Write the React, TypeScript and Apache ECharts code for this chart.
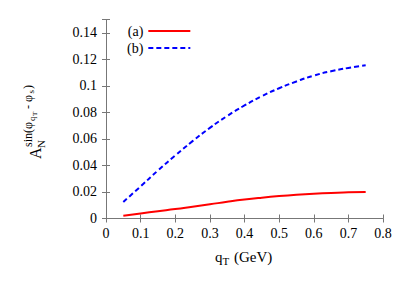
import React, { useEffect, useRef } from "react";
import * as echarts from "echarts";

const qT = [0.05, 0.1, 0.15, 0.2, 0.25, 0.3, 0.35, 0.4, 0.45, 0.5, 0.55, 0.6, 0.65, 0.7, 0.75];
const seriesA = [0.002, 0.0038, 0.0055, 0.0071, 0.0089, 0.0107, 0.0126, 0.0143, 0.0157, 0.0169, 0.0179, 0.0187, 0.0193, 0.0197, 0.02];
const seriesB = [0.0125, 0.0242, 0.0362, 0.0475, 0.0583, 0.0683, 0.0773, 0.0852, 0.0922, 0.0982, 0.1033, 0.1077, 0.111, 0.1135, 0.1155];
const xTicks = [0, 0.1, 0.2, 0.3, 0.4, 0.5, 0.6, 0.7, 0.8];
const yTicks = [0, 0.02, 0.04, 0.06, 0.08, 0.1, 0.12, 0.14];

const FONT = "Liberation Serif";
const AXIS = "#777";

export default function App() {
  const ref = useRef<HTMLDivElement>(null);
  useEffect(() => {
    if (!ref.current) return;
    const chart = echarts.init(ref.current, null, { renderer: "svg" });
    const axisCommon = {
      axisLine: { show: true, lineStyle: { color: AXIS, width: 1 } },
      axisTick: { show: true, inside: true, length: 4, lineStyle: { color: AXIS } },
      splitLine: { show: false },
    };
    // b = desired baseline
    const sup = (t: string, x: number, b: number, s: number) => ({
      type: "text",
      x,
      y: b - 0.86 * s,
      style: { text: t, fontFamily: FONT, fontSize: s, fill: "#000", verticalAlign: "top", align: "left" },
    });
    chart.setOption({
      animation: false,
      textStyle: { fontFamily: FONT },
      grid: { left: 106, right: 24, top: 19.5, bottom: 66.5 },
      xAxis: [
        {
          type: "value",
          min: 0,
          max: 0.8,
          interval: 0.1,
          ...axisCommon,
          axisLabel: {
            color: "#000",
            fontFamily: FONT,
            fontSize: 14,
            margin: 8,
            formatter: (v: number) => String(xTicks.find((t) => Math.abs(t - v) < 1e-9) ?? v),
          },
        },
        { type: "value", position: "top", min: 0, max: 0.8, interval: 0.1, ...axisCommon, axisLabel: { show: false } },
      ],
      yAxis: [
        {
          type: "value",
          min: 0,
          max: 0.15,
          interval: 0.02,
          ...axisCommon,
          axisLabel: {
            color: "#000",
            fontFamily: FONT,
            fontSize: 14,
            margin: 9,
            formatter: (v: number) => (v > 0.145 ? "" : String(yTicks.find((t) => Math.abs(t - v) < 1e-9) ?? v)),
          },
        },
        { type: "value", position: "right", min: 0, max: 0.15, interval: 0.02, ...axisCommon, axisLabel: { show: false } },
      ],
      legend: {
        orient: "vertical",
        left: 122,
        top: 19,
        align: "right",
        itemWidth: 42,
        itemHeight: 12,
        itemGap: 3,
        itemStyle: { opacity: 0 },
        textStyle: { fontFamily: FONT, fontSize: 14, color: "#000" },
        data: ["(a)", "(b)"],
      },
      series: [
        {
          name: "(a)",
          type: "line",
          data: qT.map((x, i) => [x, seriesA[i]]),
          showSymbol: false,
          symbol: "none",
          smooth: 0.5,
          lineStyle: { color: "#ff0000", width: 2 },
          itemStyle: { color: "#ff0000" },
        },
        {
          name: "(b)",
          type: "line",
          data: qT.map((x, i) => [x, seriesB[i]]),
          showSymbol: false,
          symbol: "none",
          smooth: 0.5,
          lineStyle: { color: "#0000ff", width: 2, type: [5, 3] },
          itemStyle: { color: "#0000ff" },
        },
      ],
      graphic: [
        {
          type: "group",
          x: 41,
          y: 159,
          rotation: Math.PI / 2,
          children: [
            sup("A", 0, 0, 16),
            sup("N", 11, 4, 11),
            sup("sin(φ", 12, -9, 12),
            sup("q", 38, -6, 9),
            sup("T", 43, -3.5, 7),
            sup("- φ", 50, -9, 12),
            sup("s", 65.5, -7, 9),
            sup(")", 70, -9, 12),
          ],
        },
        {
          type: "group",
          x: 215,
          y: 262,
          children: [sup("q", 0, 0, 15), sup("T", 7.5, 3, 11), sup("(GeV)", 19, 0, 15)],
        },
      ],
    });
    return () => chart.dispose();
  }, []);
  return <div ref={ref} style={{ width: 407, height: 285, margin: -8 }} />;
}
